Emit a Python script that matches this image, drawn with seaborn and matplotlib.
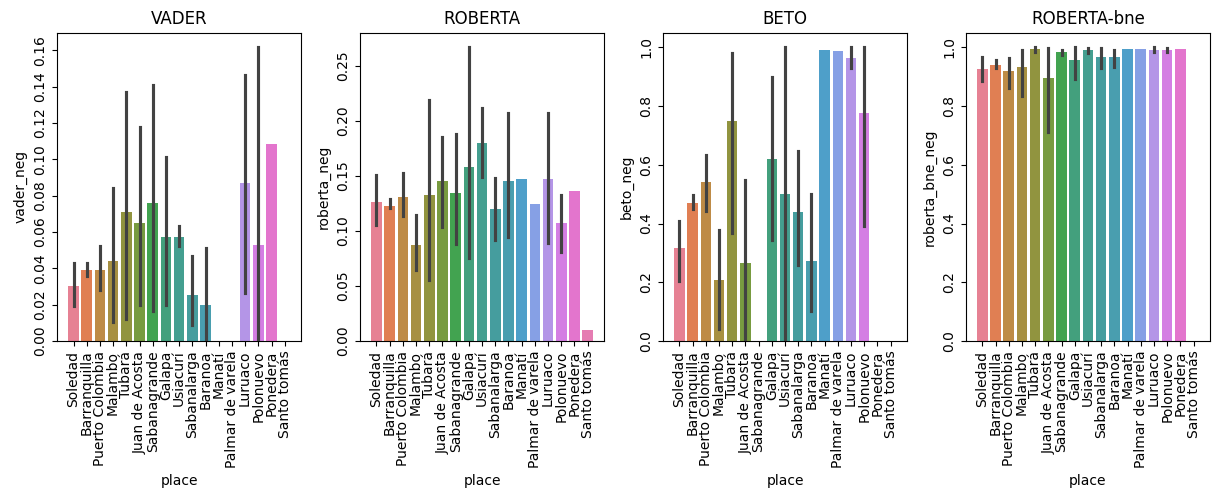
import matplotlib
matplotlib.use("Agg")
import matplotlib.pyplot as plt
import numpy as np
import pandas as pd
import seaborn as sns

places = ["Soledad", "Barranquilla", "Puerto Colombia", "Malambo", "Tubará",
          "Juan de Acosta", "Sabanagrande", "Galapa", "Usiacurí", "Sabanalarga",
          "Baranoa", "Manatí", "Palmar de varela", "Luruaco", "Polonuevo",
          "Ponedera", "Santo tomás"]

nan = np.nan

# mean negative score per place, with the 95% CI bounds (nan where a place has one text)
vader_neg = [0.030, 0.039, 0.039, 0.044, 0.071, 0.065, 0.076, 0.057, 0.057, 0.0255,
             0.020, 0.0, 0.0, 0.087, 0.053, 0.1086, 0.0]
vader_lo = [0.0195, 0.036, 0.028, 0.0104, 0.012, 0.0197, 0.0164, 0.0197, 0.052, 0.009,
            0.0, nan, nan, 0.0265, 0.0, nan, nan]
vader_hi = [0.043, 0.043, 0.052, 0.084, 0.137, 0.118, 0.141, 0.101, 0.063, 0.0465,
            0.051, nan, nan, 0.1465, 0.1615, nan, nan]

roberta_neg = [0.1265, 0.1229, 0.131, 0.0873, 0.1325, 0.1452, 0.1346, 0.158, 0.1798,
               0.1196, 0.1452, 0.1476, 0.125, 0.1476, 0.1069, 0.1364, 0.0096]
roberta_lo = [0.1054, 0.1205, 0.1136, 0.0648, 0.0557, 0.1039, 0.088, 0.0753, 0.149,
              0.0919, 0.0949, nan, nan, 0.0889, 0.0813, nan, nan]
roberta_hi = [0.1506, 0.129, 0.1527, 0.1145, 0.219, 0.1858, 0.1883, 0.267, 0.2123,
              0.148, 0.207, nan, nan, 0.207, 0.1325, nan, nan]

beto_neg = [0.317, 0.47, 0.54, 0.206, 0.751, 0.266, 0.0, 0.619, 0.5, 0.438, 0.274,
            0.99, 0.989, 0.963, 0.778, 0.0, 0.0]
beto_lo = [0.204, 0.45, 0.442, 0.04, 0.368, 0.0, nan, 0.345, 0.0, 0.26, 0.102,
           nan, nan, 0.929, 0.39, nan, nan]
beto_hi = [0.408, 0.498, 0.634, 0.379, 0.982, 0.549, nan, 0.898, 1.0, 0.648, 0.5,
           nan, nan, 1.0, 1.0, nan, nan]

roberta_bne_neg = [0.925, 0.94, 0.92, 0.934, 0.994, 0.895, 0.985, 0.959, 0.991, 0.968,
                   0.968, 0.995, 0.995, 0.993, 0.991, 0.995, 0.0]
roberta_bne_lo = [0.886, 0.931, 0.861, 0.835, 0.985, 0.713, 0.974, 0.891, 0.982, 0.929,
                  0.932, nan, nan, 0.985, 0.985, nan, nan]
roberta_bne_hi = [0.968, 0.957, 0.965, 0.993, 1.0, 0.997, 0.993, 1.0, 0.999, 0.997,
                  0.991, nan, nan, 1.0, 0.997, nan, nan]

titles = ["VADER", "ROBERTA", "BETO", "ROBERTA-bne"]
columns = ["vader_neg", "roberta_neg", "beto_neg", "roberta_bne_neg"]

df = pd.DataFrame({
    "place": places,
    "vader_neg": vader_neg,
    "roberta_neg": roberta_neg,
    "beto_neg": beto_neg,
    "roberta_bne_neg": roberta_bne_neg,
})
intervals = {
    "vader_neg": (vader_lo, vader_hi),
    "roberta_neg": (roberta_lo, roberta_hi),
    "beto_neg": (beto_lo, beto_hi),
    "roberta_bne_neg": (roberta_bne_lo, roberta_bne_hi),
}

fig, axes = plt.subplots(1, 4, figsize=(12.16, 4.97), dpi=100)
fig.subplots_adjust(left=0.047, right=0.995, top=0.934, bottom=0.314, wspace=0.242)

for ax, col, title in zip(axes, columns, titles):
    sns.barplot(data=df, x="place", y=col, hue="place", order=places,
                hue_order=places, palette="husl", legend=False,
                errorbar=None, ax=ax)
    lo, hi = intervals[col]
    for i, (a, b) in enumerate(zip(lo, hi)):
        if not (np.isnan(a) or np.isnan(b)):
            ax.plot([i, i], [a, b], color=".26", linewidth=2.25, zorder=3)
    ax.set_title(title)
    ax.set_xlabel("place")
    ax.set_ylabel(col)
    ax.tick_params(axis="x", labelrotation=90)
    ax.tick_params(axis="y", labelrotation=90)
    for lab in ax.get_yticklabels():
        lab.set_verticalalignment("center")

fig.savefig("out.png", dpi=100)
